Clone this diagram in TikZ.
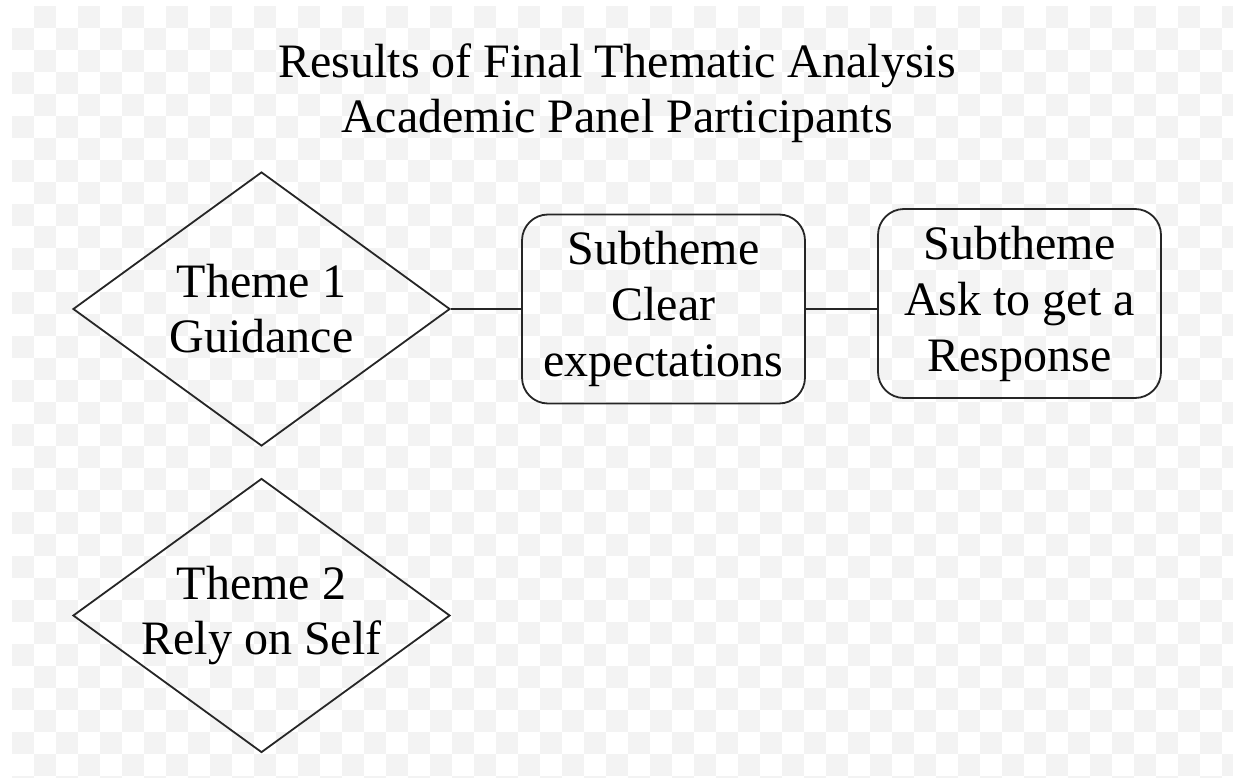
\documentclass[tikz,border=0pt]{standalone}
\usepackage{fontspec}
\setmainfont{Liberation Serif}
\usetikzlibrary{shapes.geometric}
\definecolor{checkgray}{HTML}{F3F3F3}
\definecolor{inkline}{HTML}{262626}
\tikzset{
  bigtext/.style={align=center, font=\fontsize{48}{55}\selectfont},
  % diamond of fixed size; its caption sits at the centre as a label
  theme/.style={draw=inkline, line width=1.8pt, diamond, inner sep=0pt,
    minimum width=377pt, minimum height=274pt,
    label={[bigtext]center:#1}},
  subbox/.style={draw=inkline, line width=1.8pt, rectangle, rounded corners=26pt,
    minimum width=283pt, minimum height=189pt, inner sep=0pt, align=center,
    font=\fontsize{48}{56}\selectfont},
  link/.style={draw=inkline, line width=1.8pt},
}
\begin{document}
\begin{tikzpicture}[x=1pt, y=-1pt]
  \useasboundingbox (0,0) rectangle (1233,778);
  % faint checkered backdrop
  \fill[white] (0,0) rectangle (1233,778);
  \foreach \i in {0,...,56} {
    \foreach \j in {0,...,35} {
      \pgfmathtruncatemacro{\cellparity}{mod(\i+\j,2)}
      \ifnum\cellparity=1
        \fill[checkgray] ({12+22*\i},{6+22*\j}) rectangle ++(22,22);
      \fi
    }
  }
  % title
  \node[bigtext] (title) at (617,93) {Results of Final Thematic Analysis\\Academic Panel Participants};
  % themes
  \node[theme={Theme 1\\Guidance}] (t1) at (261.5,309) {};
  \node[theme={Theme 2\\Rely on Self}] (t2) at (261.5,615.5) {};
  % subthemes
  \node[subbox] (s1) at (663.5,309) {Subtheme\\Clear\\expectations};
  \node[subbox] (s2) at (1019.5,303.5) {Subtheme\\Ask to get a\\Response};
  % connectors, both level with the first theme's right corner
  \draw[link] (t1.east) -- (t1.east -| s1.west);
  \draw[link] (t1.east -| s1.east) -- (t1.east -| s2.west);
\end{tikzpicture}
\end{document}
